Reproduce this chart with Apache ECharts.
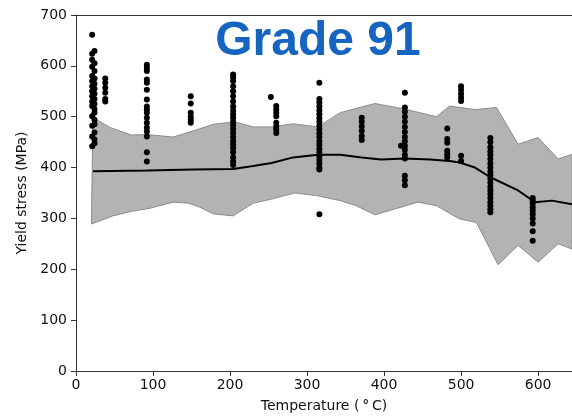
<!DOCTYPE html>
<html>
<head>
<meta charset="utf-8">
<script src="https://cdn.jsdelivr.net/npm/echarts@6/dist/echarts.min.js"></script>
<style>
html,body{margin:0;padding:0;background:#fff;}
#main{width:572px;height:418px;}
</style>
</head>
<body>
<div id="main"></div>
<script>
// ---- data ----
const xTicks = [0, 100, 200, 300, 400, 500, 600];
const yTicks = [0, 100, 200, 300, 400, 500, 600, 700];

const scatterTemps = [21, 24, 38, 92, 149, 204, 253, 260, 316, 371, 422, 427, 482, 500, 538, 593];
const scatterValues = [
  [661, 624, 612, 598, 580, 570, 560, 550, 540, 530, 521, 501, 482, 461, 442],
  [629, 605, 590, 575, 565, 555, 545, 535, 525, 515, 508, 494, 485, 469, 455, 448],
  [575, 567, 557, 547, 535, 530],
  [602, 596, 590, 573, 567, 553, 534, 520, 514, 508, 498, 488, 479, 471, 461, 430, 412],
  [540, 526, 508, 500, 494, 488],
  [583, 577, 570, 560, 550, 540, 530, 520, 512, 505, 498, 490, 483, 476, 468, 460, 452, 445, 438, 430, 420, 412, 405],
  [539],
  [521, 514, 508, 501, 488, 481, 475, 468],
  [567, 535, 528, 520, 512, 505, 497, 490, 482, 475, 467, 460, 452, 445, 437, 430, 422, 415, 408, 400, 396, 308],
  [498, 490, 481, 472, 462, 454],
  [443],
  [547, 518, 510, 500, 490, 480, 470, 460, 452, 443, 435, 425, 418, 384, 375, 365],
  [477, 456, 449, 433, 426, 420],
  [560, 553, 545, 538, 531, 423, 413],
  [458, 450, 440, 432, 425, 417, 408, 400, 392, 385, 378, 370, 362, 355, 348, 340, 332, 325, 318, 312],
  [340, 335, 330, 322, 315, 308, 300, 290, 275, 256]
];

const meanTemps =  [22, 92, 152, 204, 230, 254, 282, 314, 343, 371, 396, 427, 460, 485, 498, 518, 538, 574, 596, 618, 644];
const meanValues = [393, 394, 396, 397, 403, 409, 420, 425, 425, 420, 416, 418, 416, 413, 410, 400, 381, 355, 332, 335, 328];

const upperTemps =  [22, 44, 72, 92, 126, 152, 178, 206, 230, 254, 282, 314, 343, 388, 427, 468, 485, 518, 546, 574, 600, 626, 644];
const upperValues = [498, 479, 464, 465, 460, 472, 485, 490, 480, 480, 486, 480, 508, 526, 515, 500, 521, 514, 518, 446, 459, 417, 426];

const lowerTemps =  [20, 48, 72, 96, 126, 146, 161, 178, 204, 230, 254, 284, 312, 343, 364, 388, 444, 468, 498, 520, 548, 574, 600, 626, 644];
const lowerValues = [289, 305, 314, 320, 332, 330, 322, 309, 305, 330, 338, 350, 345, 335, 325, 307, 332, 325, 299, 292, 209, 247, 214, 250, 240];

// ---- build ----
const scatterData = [];
scatterTemps.forEach((t, i) => scatterValues[i].forEach(v => scatterData.push([t, v])));
const meanData = meanTemps.map((t, i) => [t, meanValues[i]]);
const upperData = upperTemps.map((t, i) => [t, upperValues[i]]);
const lowerData = lowerTemps.map((t, i) => [t, lowerValues[i]]);

const chart = echarts.init(document.getElementById('main'), null, {renderer: 'canvas'});
const font = 'DejaVu Sans';
const axisColor = '#333';
const xMin = 0, xMax = 644;

chart.setOption({
  animation: false,
  backgroundColor: '#fff',
  grid: {left: 76, top: 15, right: 0, bottom: 45, show: false},
  graphic: [{
    type: 'text', x: 318, y: 42, z: 100,
    style: {text: 'Grade 91', fill: '#1565c0', font: 'bold 48px "Liberation Sans", Arial, sans-serif', align: 'center', verticalAlign: 'middle'}
  }],
  xAxis: [{
    type: 'value', min: xMin, max: xMax, interval: 100,
    name: 'Temperature (\u2009\u00b0\u2009C)', nameLocation: 'middle', nameGap: 28,
    nameTextStyle: {fontFamily: font, fontSize: 14, color: '#111'},
    axisLine: {show: true, onZero: false, lineStyle: {color: axisColor, width: 1}},
    axisTick: {show: true, inside: false, length: 5, lineStyle: {color: axisColor}},
    axisLabel: {fontFamily: font, fontSize: 14, color: '#111', margin: 7,
      showMaxLabel: false, formatter: v => (xTicks.indexOf(v) >= 0 ? String(v) : '')},
    splitLine: {show: false}
  }, {
    type: 'value', position: 'top', min: xMin, max: xMax,
    axisLine: {show: true, onZero: false, lineStyle: {color: axisColor, width: 1}},
    axisTick: {show: false}, axisLabel: {show: false}, splitLine: {show: false}
  }],
  yAxis: {
    type: 'value', min: 0, max: 700, interval: 100,
    name: 'Yield stress (MPa)', nameLocation: 'middle', nameGap: 46, nameRotate: 90,
    nameTextStyle: {fontFamily: font, fontSize: 14, color: '#111'},
    axisLine: {show: true, onZero: false, lineStyle: {color: axisColor, width: 1}},
    axisTick: {show: true, inside: false, length: 5, lineStyle: {color: axisColor}},
    axisLabel: {fontFamily: font, fontSize: 14, color: '#111', margin: 9,
      formatter: v => (yTicks.indexOf(v) >= 0 ? String(v) : '')},
    splitLine: {show: false}
  },
  series: [
    {
      type: 'custom', z: 1, silent: true, xAxisIndex: 0,
      data: [[0, 0]],
      renderItem: function (params, api) {
        const pts = [];
        upperData.forEach(p => pts.push(api.coord(p)));
        for (let i = lowerData.length - 1; i >= 0; i--) pts.push(api.coord(lowerData[i]));
        return {type: 'polygon', shape: {points: pts},
          style: {fill: '#b3b3b3', stroke: '#8c8c8c', lineWidth: 1}};
      }
    },
    {
      type: 'line', z: 3, xAxisIndex: 0, data: meanData, showSymbol: false, symbol: 'none',
      lineStyle: {color: '#000', width: 2}, silent: true
    },
    {
      type: 'scatter', z: 4, xAxisIndex: 0, data: scatterData, symbol: 'circle', symbolSize: 6,
      itemStyle: {color: '#000', opacity: 1}, silent: true
    }
  ]
});
</script>
</body>
</html>
